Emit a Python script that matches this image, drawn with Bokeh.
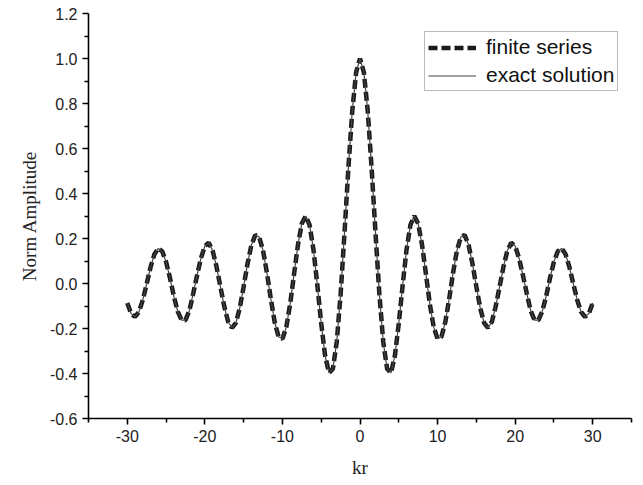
from bokeh.plotting import figure
from bokeh.models import Range1d, FixedTicker, PrintfTickFormatter, Legend, LegendItem, Label
from bokeh.embed import file_html
from bokeh.resources import INLINE

kr = [-30.0, -29.5, -29.0, -28.5, -28.0, -27.5, -27.0, -26.5, -26.0, -25.5,
      -25.0, -24.5, -24.0, -23.5, -23.0, -22.5, -22.0, -21.5, -21.0, -20.5,
      -20.0, -19.5, -19.0, -18.5, -18.0, -17.5, -17.0, -16.5, -16.0, -15.5,
      -15.0, -14.5, -14.0, -13.5, -13.0, -12.5, -12.0, -11.5, -11.0, -10.5,
      -10.0, -9.5, -9.0, -8.5, -8.0, -7.5, -7.0, -6.5, -6.0, -5.5,
      -5.0, -4.5, -4.0, -3.5, -3.0, -2.5, -2.0, -1.5, -1.0, -0.5,
      0.0, 0.5, 1.0, 1.5, 2.0, 2.5, 3.0, 3.5, 4.0, 4.5,
      5.0, 5.5, 6.0, 6.5, 7.0, 7.5, 8.0, 8.5, 9.0, 9.5,
      10.0, 10.5, 11.0, 11.5, 12.0, 12.5, 13.0, 13.5, 14.0, 14.5,
      15.0, 15.5, 16.0, 16.5, 17.0, 17.5, 18.0, 18.5, 19.0, 19.5,
      20.0, 20.5, 21.0, 21.5, 22.0, 22.5, 23.0, 23.5, 24.0, 24.5,
      25.0, 25.5, 26.0, 26.5, 27.0, 27.5, 28.0, 28.5, 29.0, 29.5,
      30.0]

finite_series = [
    -0.0864, -0.1339, -0.1478, -0.1262, -0.0732, -0.0017, 0.0727, 0.1301, 0.1560, 0.1435,
    0.0963, 0.0250, -0.0562, -0.1239, -0.1624, -0.1629, -0.1207, -0.0444, 0.0370, 0.1128,
    0.1670, 0.1805, 0.1466, 0.0752, -0.0134, -0.1014, -0.1699, -0.1969, -0.1749, -0.1092,
    -0.0142, 0.0875, 0.1711, 0.2150, 0.2069, 0.1469, 0.0477, -0.0677, -0.1712, -0.2366,
    -0.2459, -0.1939, -0.0903, 0.0419, 0.1717, 0.2663, 0.3001, 0.2601, 0.1506, -0.0068,
    -0.1776, -0.3205, -0.3971, -0.3801, -0.2601, -0.0484, 0.2239, 0.5118, 0.7652, 0.9385,
    1.0,
    0.9385, 0.7652, 0.5118, 0.2239, -0.0484, -0.2601, -0.3801, -0.3971, -0.3205, -0.1776,
    -0.0068, 0.1506, 0.2601, 0.3001, 0.2663, 0.1717, 0.0419, -0.0903, -0.1939, -0.2459,
    -0.2366, -0.1712, -0.0677, 0.0477, 0.1469, 0.2069, 0.2150, 0.1711, 0.0875, -0.0142,
    -0.1092, -0.1749, -0.1969, -0.1699, -0.1014, -0.0134, 0.0752, 0.1466, 0.1805, 0.1670,
    0.1128, 0.0370, -0.0444, -0.1207, -0.1629, -0.1624, -0.1239, -0.0562, 0.0250, 0.0963,
    0.1435, 0.1560, 0.1301, 0.0727, -0.0017, -0.0732, -0.1262, -0.1478, -0.1339, -0.0864]

exact_solution = list(finite_series)

x_ticks = [-30, -20, -10, 0, 10, 20, 30]
x_minor = [-35, -25, -15, -5, 5, 15, 25, 35]
y_ticks = [-0.6, -0.4, -0.2, 0.0, 0.2, 0.4, 0.6, 0.8, 1.0, 1.2]
y_minor = [-0.5, -0.3, -0.1, 0.1, 0.3, 0.5, 0.7, 0.9, 1.1]

p = figure(width=633, height=484, output_backend="svg", toolbar_location=None,
           x_range=Range1d(-35, 35), y_range=Range1d(-0.6, 1.2),
           min_border_left=88, min_border_right=2, min_border_top=13, min_border_bottom=66)
p.outline_line_color = None
p.xgrid.visible = False
p.ygrid.visible = False
p.background_fill_color = "white"

r_dash = p.line(kr, finite_series, line_color="#1a1a1a", line_width=4.5, line_dash="9 4")
r_solid = p.line(kr, exact_solution, line_color="#444444", line_width=1.2)

for ax in (p.xaxis[0], p.yaxis[0]):
    ax.axis_line_width = 1.6
    ax.axis_line_color = "black"
    ax.major_tick_line_width = 1.6
    ax.minor_tick_line_width = 1.6
    ax.major_tick_out = 6
    ax.major_tick_in = 0
    ax.minor_tick_out = 4
    ax.minor_tick_in = 0
    ax.major_label_text_font = "Liberation Sans"
    ax.major_label_text_font_size = "16px"
    ax.major_label_text_color = "#222222"
    ax.axis_label_text_font = "Liberation Serif"
    ax.axis_label_text_font_size = "19px"
    ax.axis_label_text_font_style = "normal"
    ax.axis_label_text_color = "#222222"

p.xaxis[0].ticker = FixedTicker(ticks=x_ticks, minor_ticks=x_minor)
p.yaxis[0].ticker = FixedTicker(ticks=y_ticks, minor_ticks=y_minor)
p.xaxis[0].formatter = PrintfTickFormatter(format="%d")
p.yaxis[0].formatter = PrintfTickFormatter(format="%.1f")
p.xaxis[0].axis_label = "kr"
p.yaxis[0].axis_label = "Norm Amplitude"
p.xaxis[0].axis_label_standoff = 12
p.yaxis[0].axis_label_standoff = 7
p.xaxis[0].major_label_standoff = 5
p.yaxis[0].major_label_standoff = 5

legend = Legend(items=[LegendItem(label="finite series", renderers=[r_dash]),
                       LegendItem(label="exact solution", renderers=[r_solid])],
                location=(336, 327), margin=0, padding=3, spacing=4,
                label_text_font="Liberation Sans", label_text_font_size="21px",
                label_text_color="#111111", glyph_width=48, glyph_height=21,
                label_height=21, label_standoff=10,
                border_line_color="#777777", border_line_width=1,
                background_fill_alpha=1.0)
p.add_layout(legend, "center")

p.add_layout(Label(x=-54, y=-48, x_units="screen", y_units="screen", text="(a)",
                   text_font="Liberation Sans", text_font_size="16px",
                   text_baseline="middle", text_align="left", text_color="#222222"))

open("out.html", "w").write(file_html(p, INLINE))
